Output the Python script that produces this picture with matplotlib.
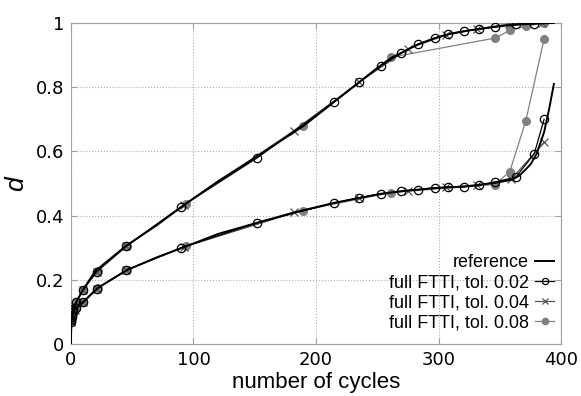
import matplotlib
matplotlib.use("Agg")
import matplotlib.pyplot as plt

plt.rcParams['font.family'] = ['Liberation Sans', 'DejaVu Sans']

# reference solution (black line), two damage curves
ref_up_x = [0, 0.3, 1, 2, 5, 10, 20, 45, 70, 93, 120, 150, 190, 215, 235, 250, 262, 270,
            283, 297, 310, 325, 340, 355, 370, 385, 394]
ref_up_y = [0, 0.07, 0.09, 0.11, 0.135, 0.17, 0.228, 0.306, 0.37, 0.435, 0.507, 0.58, 0.68,
            0.755, 0.815, 0.86, 0.893, 0.908, 0.933, 0.953, 0.967, 0.977, 0.985, 0.992,
            0.996, 0.999, 1.0]
ref_lo_x = [0, 0.3, 1, 2, 5, 10, 22, 46, 70, 93, 120, 152, 182, 215, 235, 253, 269, 283,
            297, 321, 346, 360, 366, 371, 375, 380, 386, 390, 394]
ref_lo_y = [0, 0.07, 0.085, 0.1, 0.115, 0.131, 0.175, 0.231, 0.27, 0.303, 0.343, 0.378,
            0.41, 0.44, 0.455, 0.468, 0.476, 0.481, 0.486, 0.491, 0.502, 0.512, 0.525,
            0.544, 0.56, 0.593, 0.66, 0.73, 0.81]

# full FTTI, tol. 0.02
t02_up_x = [0.3, 1, 2, 4, 10, 21, 45, 90, 152, 215, 235, 253, 269, 283, 297, 308, 321, 333,
            346, 363, 378]
t02_up_y = [0.075, 0.09, 0.11, 0.13, 0.17, 0.226, 0.305, 0.428, 0.58, 0.755, 0.815, 0.866,
            0.905, 0.934, 0.953, 0.966, 0.975, 0.98, 0.988, 0.997, 0.998]
t02_lo_x = [0.3, 1, 2, 4, 10, 21, 45, 90, 152, 215, 235, 253, 269, 283, 297, 308, 321, 333,
            346, 363, 378, 386]
t02_lo_y = [0.07, 0.085, 0.1, 0.112, 0.13, 0.173, 0.23, 0.30, 0.378, 0.44, 0.455, 0.469,
            0.476, 0.481, 0.487, 0.489, 0.49, 0.494, 0.505, 0.52, 0.593, 0.70]

# full FTTI, tol. 0.04
t04_up_x = [0.3, 1, 3, 10, 21, 45, 92, 182, 235, 275, 306, 331, 357, 384]
t04_up_y = [0.075, 0.09, 0.12, 0.17, 0.226, 0.305, 0.433, 0.665, 0.815, 0.92, 0.962, 0.981,
            0.997, 0.999]
t04_lo_x = [0.3, 1, 3, 10, 21, 45, 92, 182, 235, 275, 306, 331, 359, 386]
t04_lo_y = [0.07, 0.085, 0.107, 0.13, 0.173, 0.23, 0.302, 0.41, 0.456, 0.478, 0.488, 0.494,
            0.513, 0.628]

# full FTTI, tol. 0.08
t08_up_x = [0.3, 1, 2, 3, 4, 10, 22, 46, 93.5, 189, 261, 346, 358, 371, 386]
t08_up_y = [0.08, 0.1, 0.115, 0.125, 0.13, 0.17, 0.228, 0.306, 0.437, 0.68, 0.893, 0.953,
            0.977, 0.99, 1.0]
t08_lo_x = [0.3, 1, 2, 3, 4, 10, 22, 46, 93.5, 189, 261, 346, 358, 371, 386]
t08_lo_y = [0.075, 0.09, 0.1, 0.11, 0.115, 0.131, 0.175, 0.231, 0.306, 0.416, 0.472, 0.497,
            0.537, 0.694, 0.95]

labels = ['reference', 'full FTTI, tol. 0.02', 'full FTTI, tol. 0.04', 'full FTTI, tol. 0.08']

fig = plt.figure(figsize=(5.81, 3.96), dpi=100)
ax = fig.add_axes([0.122, 0.131, 0.844, 0.811])

gray = '#808080'
# tol 0.08
ax.plot(t08_up_x, t08_up_y, '-', color=gray, lw=0.9, marker='o', ms=5.5, mfc=gray, mec=gray,
        label=labels[3], zorder=2)
ax.plot(t08_lo_x, t08_lo_y, '-', color=gray, lw=0.9, marker='o', ms=5.5, mfc=gray, mec=gray,
        zorder=2)
# tol 0.04
ax.plot(t04_up_x, t04_up_y, '-', color='#555555', lw=0.9, marker='x', ms=6, mew=0.9,
        label=labels[2], zorder=3)
ax.plot(t04_lo_x, t04_lo_y, '-', color='#555555', lw=0.9, marker='x', ms=6, mew=0.9, zorder=3)
# tol 0.02
ax.plot(t02_up_x, t02_up_y, '-', color='black', lw=0.9, marker='o', ms=6, mfc='none',
        mec='black', mew=0.9, label=labels[1], zorder=4)
ax.plot(t02_lo_x, t02_lo_y, '-', color='black', lw=0.9, marker='o', ms=6, mfc='none',
        mec='black', mew=0.9, zorder=4)
# reference
ax.plot(ref_up_x, ref_up_y, '-', color='black', lw=1.4, label=labels[0], zorder=5)
ax.plot(ref_lo_x, ref_lo_y, '-', color='black', lw=1.4, zorder=5)

ax.set_xlim(0, 400)
ax.set_ylim(0, 1)
ax.set_xticks([0, 100, 200, 300, 400])
ax.set_yticks([0, 0.2, 0.4, 0.6, 0.8, 1])
ax.set_yticklabels(['0', '0.2', '0.4', '0.6', '0.8', '1'])
ax.grid(True, color='#b0b0b0', linestyle=':', linewidth=0.8)
for s in ax.spines.values():
    s.set_color('#a0a0a0')
ax.tick_params(direction='in', length=4, color='#a0a0a0', labelsize=13, top=True, right=True,
               pad=5)
for lbl in ax.get_xticklabels() + ax.get_yticklabels():
    lbl.set_fontfamily('DejaVu Sans')
ax.set_xlabel('number of cycles', fontsize=16, labelpad=2)
ax.set_ylabel('d', fontsize=19, style='italic', labelpad=5)

h, l = ax.get_legend_handles_labels()
order = [l.index(x) for x in labels]
leg = ax.legend([h[i] for i in order], [l[i] for i in order], loc='lower right',
                bbox_to_anchor=(1.012, 0), frameon=False, markerfirst=False, fontsize=13,
                handlelength=1.1, handletextpad=0.33, labelspacing=0.17, borderaxespad=0.3)
for lh in leg.legend_handles:
    lh.set_markersize(4.5)

fig.savefig('out.png', dpi=100)
